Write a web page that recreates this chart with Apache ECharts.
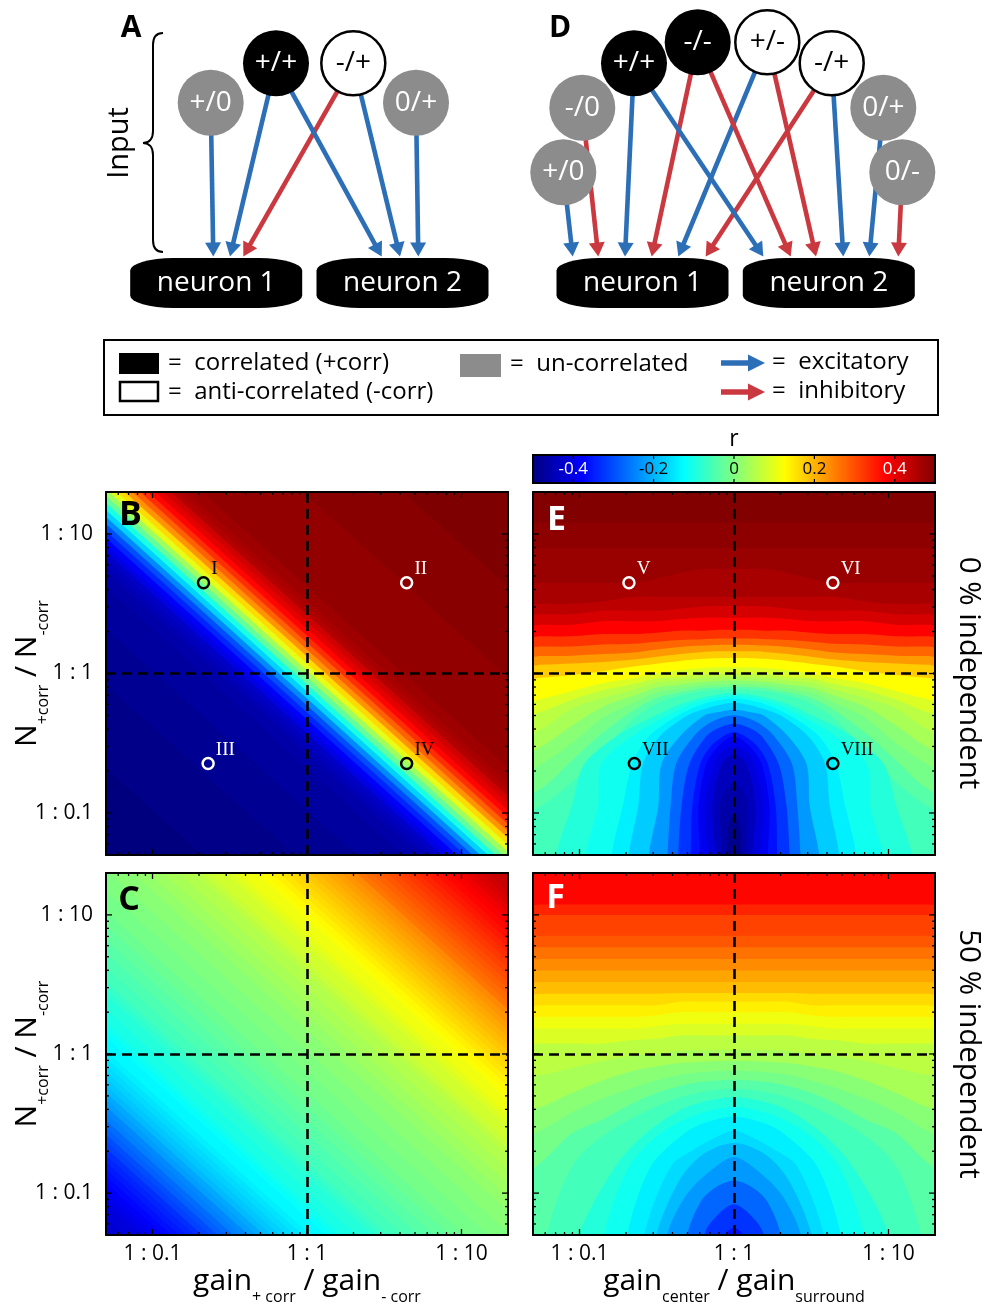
<!DOCTYPE html>
<html><head><meta charset="utf-8">
<script src="https://cdn.jsdelivr.net/npm/echarts@6/dist/echarts.min.js"></script>
<style>html,body{margin:0;padding:0;background:#fff}#c{width:996px;height:1304px}</style>
</head><body><div id="c"></div>
<script>
// ================= DATA =================
// log-ratio axes (ratio shown as "1 : x")
const ratioRange = [0.05, 20];
const ratioTicksMajor = [0.1, 1, 10];
const ratioTickLabels = ['1 : 0.1', '1 : 1', '1 : 10'];
const ratioTicksMinor = [0.06,0.07,0.08,0.09,0.2,0.3,0.4,0.5,0.6,0.7,0.8,0.9,2,3,4,5,6,7,8,9];

// Panels B and C: r is constant along the anti-diagonals; profile read against
// s = log10(x ratio) + log10(y ratio) (centres of the contour bands)
const diagSumLog10 = [-2.6,-2.55,-2.5,-2.45,-2.4,-2.35,-2.3,-2.25,-2.2,-2.15,-2.1,-2.05,-2,-1.95,-1.9,-1.85,-1.8,-1.75,-1.7,-1.65,-1.6,-1.55,-1.5,-1.45,-1.4,-1.35,-1.3,-1.25,-1.2,-1.15,-1.1,-1.05,-1,-0.95,-0.9,-0.85,-0.8,-0.75,-0.7,-0.65,-0.6,-0.55,-0.5,-0.45,-0.4,-0.35,-0.3,-0.25,-0.2,-0.15,-0.1,-0.05,0,0.05,0.1,0.15,0.2,0.25,0.3,0.35,0.4,0.45,0.5,0.55,0.6,0.65,0.7,0.75,0.8,0.85,0.9,0.95,1,1.05,1.1,1.15,1.2,1.25,1.3,1.35,1.4,1.45,1.5,1.55,1.6,1.65,1.7,1.75,1.8,1.85,1.9,1.95,2,2.05,2.1,2.15,2.2,2.25,2.3,2.35,2.4,2.45,2.5,2.55,2.6];
// correlation r (x100)
const rB_diag = [
-50,-50,-50,-50,-50,-50,-50,-50,-50,-50,-50,-50,-50,
-49,-49,-49,-49,-49,-49,-49,-49,-49,-49,-49,-49,
-48,-48,-48,-48,-48,-48,-48,-48,
-47,-47,-47,-47,-47,-47,
-46,-46,-45,-44,-43,-40,-38,-34,-30,-24,-17,-10,-3,
3,10,16,23,28,33,37,40,42,45,46,47,47,48,48,
48,48,48,48,48,48,48,48,48,48,48,
49,49,49,49,49,49,49,49,49,49,49,49,49,
50,50,50,50,50,50,50,50,50,50,50,50,50,50];
const rC_diag = [
-43,-42,-42,-41,-41,-40,-39,-38,-37,-36,-35,-34,-33,
-31,-30,-28,-27,-25,-24,-22,-21,-19,-18,-17,-16,
-15,-14,-13,-13,-12,-11,-10,-10,
-9,-9,-8,-7,-6,-6,
-5,-5,-4,-4,-3,-3,-2,-2,-1,-1,-1,0,0,
0,1,1,1,2,2,3,3,4,4,5,5,6,7,8,
8,9,10,11,11,12,13,14,15,16,17,
18,19,20,21,22,23,24,26,27,28,29,30,31,
32,33,34,35,36,37,38,39,40,41,42,43,43,44];

// Panels E and F: filled contours.
// (a) contours crossing the whole panel: log10(y ratio) at the x positions contourU,
//     band r = value of the band lying above the line;
// (b) closed dome contours (u, v) at the bottom, band r = value inside the dome.
const contourU = [-1.45,-1.25,-1.05,-0.85,-0.65,-0.5,-0.35,-0.2,-0.1,0,0.1,0.2,0.35,0.5,0.65,0.85,1.05,1.25,1.45];
const bandE_r = [-0.06,-0.04,-0.01,0.01,0.04,0.06,0.09,0.125,0.175,0.225,0.275,0.325,0.375,0.415,0.44,0.46,0.475,0.485,0.497];
const contourE_v = [
[-1.6,-1.6,-1.6,-1.6,-1.6,-1.6,-1.6,-1.6,-1.6,-1.6,-1.6,-1.6,-1.6,-1.6,-1.6,-1.6,-1.6,-1.6,-1.6],
[-1.05,-0.95,-0.78,-0.55,-0.325,-0.217,-0.16,-0.127,-0.118,-0.115,-0.118,-0.127,-0.16,-0.217,-0.325,-0.55,-0.78,-0.95,-1.05],
[-0.9,-0.825,-0.625,-0.425,-0.263,-0.175,-0.135,-0.105,-0.098,-0.095,-0.098,-0.105,-0.135,-0.175,-0.263,-0.425,-0.625,-0.825,-0.9],
[-0.75,-0.65,-0.5,-0.317,-0.21,-0.136,-0.11,-0.085,-0.078,-0.075,-0.078,-0.085,-0.11,-0.136,-0.21,-0.317,-0.5,-0.65,-0.75],
[-0.6,-0.525,-0.375,-0.238,-0.16,-0.1,-0.08,-0.06,-0.052,-0.05,-0.052,-0.06,-0.08,-0.1,-0.16,-0.238,-0.375,-0.525,-0.6],
[-0.48,-0.4,-0.25,-0.175,-0.117,-0.064,-0.05,-0.033,-0.027,-0.025,-0.027,-0.033,-0.05,-0.064,-0.117,-0.175,-0.25,-0.4,-0.48],
[-0.33,-0.275,-0.188,-0.12,-0.075,-0.035,-0.025,-0.006,-0.001,0,-0.001,-0.006,-0.025,-0.035,-0.075,-0.12,-0.188,-0.275,-0.33],
[-0.22,-0.183,-0.125,-0.07,-0.033,0,0.025,0.04,0.045,0.045,0.045,0.04,0.025,0,-0.033,-0.07,-0.125,-0.183,-0.22],
[-0.04,-0.03,-0.01,0.017,0.05,0.07,0.09,0.105,0.11,0.11,0.11,0.105,0.09,0.07,0.05,0.017,-0.01,-0.03,-0.04],
[0.06,0.063,0.072,0.083,0.1,0.12,0.14,0.155,0.159,0.159,0.159,0.155,0.14,0.12,0.1,0.083,0.072,0.063,0.06],
[0.125,0.125,0.128,0.139,0.15,0.172,0.19,0.2,0.205,0.205,0.205,0.2,0.19,0.172,0.15,0.139,0.128,0.125,0.125],
[0.193,0.193,0.193,0.207,0.213,0.228,0.24,0.245,0.25,0.25,0.25,0.245,0.24,0.228,0.213,0.207,0.193,0.193,0.193],
[0.267,0.267,0.267,0.283,0.283,0.293,0.307,0.306,0.313,0.313,0.313,0.306,0.307,0.293,0.283,0.283,0.267,0.267,0.267],
[0.35,0.35,0.35,0.375,0.375,0.375,0.39,0.4,0.4,0.4,0.4,0.4,0.39,0.375,0.375,0.375,0.35,0.35,0.35],
[0.425,0.425,0.425,0.45,0.45,0.45,0.465,0.48,0.483,0.483,0.483,0.48,0.465,0.45,0.45,0.45,0.425,0.425,0.425],
[0.5,0.5,0.5,0.517,0.55,0.55,0.55,0.55,0.55,0.55,0.55,0.55,0.55,0.55,0.55,0.517,0.5,0.5,0.5],
[0.65,0.65,0.65,0.65,0.65,0.68,0.72,0.75,0.75,0.75,0.75,0.75,0.72,0.68,0.65,0.65,0.65,0.65,0.65],
[0.9,0.9,0.9,0.9,0.9,0.9,0.9,0.9,0.9,0.9,0.9,0.9,0.9,0.9,0.9,0.9,0.9,0.9,0.9],
[1.08,1.08,1.08,1.08,1.08,1.08,1.08,1.08,1.08,1.08,1.08,1.08,1.08,1.08,1.08,1.08,1.08,1.08,1.08]
];
const domeE_r = [-0.09,-0.11,-0.14,-0.175,-0.225,-0.275,-0.325,-0.36,-0.39,-0.41,-0.44,-0.46,-0.485];
const domeE_pts = [
[[-1.17,-1.6],[-1.15,-1.29],[-1.05,-0.95],[-0.97,-0.65],[-0.76,-0.45],[-0.505,-0.3],[-0.3,-0.2],[0,-0.14],[0.3,-0.2],[0.505,-0.3],[0.76,-0.45],[0.97,-0.65],[1.05,-0.95],[1.15,-1.29],[1.17,-1.6]],
[[-0.98,-1.6],[-0.96,-1.29],[-0.88,-0.95],[-0.86,-0.65],[-0.66,-0.45],[-0.43,-0.3],[-0.25,-0.21],[0,-0.16],[0.25,-0.21],[0.43,-0.3],[0.66,-0.45],[0.86,-0.65],[0.88,-0.95],[0.96,-1.29],[0.98,-1.6]],
[[-0.8,-1.6],[-0.79,-1.29],[-0.72,-0.95],[-0.66,-0.65],[-0.55,-0.45],[-0.36,-0.3],[-0.2,-0.22],[0,-0.18],[0.2,-0.22],[0.36,-0.3],[0.55,-0.45],[0.66,-0.65],[0.72,-0.95],[0.79,-1.29],[0.8,-1.6]],
[[-0.69,-1.6],[-0.68,-1.29],[-0.62,-0.95],[-0.59,-0.65],[-0.48,-0.45],[-0.3,-0.3],[-0.18,-0.25],[0,-0.21],[0.18,-0.25],[0.3,-0.3],[0.48,-0.45],[0.59,-0.65],[0.62,-0.95],[0.68,-1.29],[0.69,-1.6]],
[[-0.56,-1.6],[-0.55,-1.29],[-0.49,-0.95],[-0.47,-0.65],[-0.35,-0.45],[-0.19,-0.3],[-0.12,-0.28],[0,-0.26],[0.12,-0.28],[0.19,-0.3],[0.35,-0.45],[0.47,-0.65],[0.49,-0.95],[0.55,-1.29],[0.56,-1.6]],
[[-0.44,-1.6],[-0.43,-1.29],[-0.41,-0.95],[-0.376,-0.65],[-0.26,-0.45],[-0.15,-0.35],[0,-0.3],[0.15,-0.35],[0.26,-0.45],[0.376,-0.65],[0.41,-0.95],[0.43,-1.29],[0.44,-1.6]],
[[-0.37,-1.6],[-0.36,-1.29],[-0.34,-0.95],[-0.29,-0.65],[-0.18,-0.45],[-0.1,-0.39],[0,-0.36],[0.1,-0.39],[0.18,-0.45],[0.29,-0.65],[0.34,-0.95],[0.36,-1.29],[0.37,-1.6]],
[[-0.29,-1.6],[-0.28,-1.29],[-0.27,-0.95],[-0.22,-0.65],[-0.15,-0.52],[-0.07,-0.45],[0,-0.42],[0.07,-0.45],[0.15,-0.52],[0.22,-0.65],[0.27,-0.95],[0.28,-1.29],[0.29,-1.6]],
[[-0.22,-1.6],[-0.22,-1.29],[-0.23,-0.95],[-0.18,-0.65],[-0.1,-0.52],[0,-0.45],[0.1,-0.52],[0.18,-0.65],[0.23,-0.95],[0.22,-1.29],[0.22,-1.6]],
[[-0.17,-1.6],[-0.17,-1.29],[-0.19,-0.95],[-0.13,-0.65],[-0.08,-0.56],[0,-0.52],[0.08,-0.56],[0.13,-0.65],[0.19,-0.95],[0.17,-1.29],[0.17,-1.6]],
[[-0.12,-1.6],[-0.12,-1.29],[-0.14,-0.95],[-0.08,-0.65],[0,-0.58],[0.08,-0.65],[0.14,-0.95],[0.12,-1.29],[0.12,-1.6]],
[[-0.08,-1.6],[-0.08,-1.29],[-0.09,-0.95],[-0.06,-0.85],[0,-0.78],[0.06,-0.85],[0.09,-0.95],[0.08,-1.29],[0.08,-1.6]],
[[-0.045,-1.6],[-0.045,-1.29],[-0.04,-1.1],[0,-1],[0.04,-1.1],[0.045,-1.29],[0.045,-1.6]]
];
const bandF_r = [-0.04,-0.01,0.01,0.04,0.06,0.09,0.11,0.14,0.16,0.19,0.2125,0.2375,0.2625,0.29,0.31,0.34,0.37];
const contourF_v = [
[-1.6,-1.6,-1.6,-1.6,-1.6,-1.6,-1.6,-1.6,-1.6,-1.6,-1.6,-1.6,-1.6,-1.6,-1.6,-1.6,-1.6,-1.6,-1.6],
[-0.9,-0.78,-0.57,-0.47,-0.35,-0.28,-0.23,-0.2,-0.19,-0.185,-0.19,-0.2,-0.23,-0.28,-0.35,-0.47,-0.57,-0.78,-0.9],
[-0.62,-0.55,-0.42,-0.32,-0.24,-0.19,-0.15,-0.13,-0.122,-0.12,-0.122,-0.13,-0.15,-0.19,-0.24,-0.32,-0.42,-0.55,-0.62],
[-0.43,-0.38,-0.28,-0.19,-0.12,-0.09,-0.065,-0.055,-0.05,-0.05,-0.05,-0.055,-0.065,-0.09,-0.12,-0.19,-0.28,-0.38,-0.43],
[-0.17,-0.15,-0.1,-0.05,-0.01,0,0.025,0.03,0.03,0.03,0.03,0.03,0.025,0,-0.01,-0.05,-0.1,-0.15,-0.17],
[0.075,0.075,0.075,0.075,0.1,0.11,0.133,0.133,0.133,0.133,0.133,0.133,0.133,0.11,0.1,0.075,0.075,0.075,0.075],
[0.183,0.183,0.183,0.183,0.183,0.2,0.217,0.217,0.217,0.217,0.217,0.217,0.217,0.2,0.183,0.183,0.183,0.183,0.183],
[0.267,0.267,0.267,0.267,0.267,0.279,0.3,0.3,0.3,0.3,0.3,0.3,0.3,0.279,0.267,0.267,0.267,0.267,0.267],
[0.35,0.35,0.35,0.35,0.35,0.35,0.375,0.375,0.375,0.375,0.375,0.375,0.375,0.35,0.35,0.35,0.35,0.35,0.35],
[0.433,0.433,0.433,0.433,0.433,0.433,0.438,0.438,0.438,0.438,0.438,0.438,0.438,0.433,0.433,0.433,0.433,0.433,0.433],
[0.517,0.517,0.517,0.517,0.517,0.517,0.517,0.517,0.517,0.517,0.517,0.517,0.517,0.517,0.517,0.517,0.517,0.517,0.517],
[0.6,0.6,0.6,0.6,0.6,0.6,0.6,0.6,0.6,0.6,0.6,0.6,0.6,0.6,0.6,0.6,0.6,0.6,0.6],
[0.683,0.683,0.683,0.683,0.683,0.683,0.683,0.683,0.683,0.683,0.683,0.683,0.683,0.683,0.683,0.683,0.683,0.683,0.683],
[0.767,0.767,0.767,0.767,0.767,0.767,0.767,0.767,0.767,0.767,0.767,0.767,0.767,0.767,0.767,0.767,0.767,0.767,0.767],
[0.85,0.85,0.85,0.85,0.85,0.85,0.85,0.85,0.85,0.85,0.85,0.85,0.85,0.85,0.85,0.85,0.85,0.85,0.85],
[1,1,1,1,1,1,1,1,1,1,1,1,1,1,1,1,1,1,1],
[1.075,1.075,1.075,1.075,1.075,1.075,1.075,1.075,1.075,1.075,1.075,1.075,1.075,1.075,1.075,1.075,1.075,1.075,1.075]
];
const domeF_r = [-0.06,-0.09,-0.11,-0.14,-0.16,-0.19,-0.225,-0.275,-0.325,-0.36];
const domeF_pts = [
[[-1.23,-1.6],[-1.21,-1.29],[-1.05,-0.81],[-0.825,-0.57],[-0.4,-0.33],[0,-0.25],[0.4,-0.33],[0.825,-0.57],[1.05,-0.81],[1.21,-1.29],[1.23,-1.6]],
[[-1.02,-1.6],[-1,-1.29],[-0.77,-0.81],[-0.57,-0.57],[-0.3,-0.38],[0,-0.31],[0.3,-0.38],[0.57,-0.57],[0.77,-0.81],[1,-1.29],[1.02,-1.6]],
[[-0.86,-1.6],[-0.84,-1.29],[-0.68,-0.81],[-0.475,-0.57],[-0.25,-0.44],[0,-0.38],[0.25,-0.44],[0.475,-0.57],[0.68,-0.81],[0.84,-1.29],[0.86,-1.6]],
[[-0.7,-1.6],[-0.69,-1.29],[-0.54,-0.81],[-0.32,-0.57],[-0.2,-0.5],[0,-0.45],[0.2,-0.5],[0.32,-0.57],[0.54,-0.81],[0.69,-1.29],[0.7,-1.6]],
[[-0.59,-1.6],[-0.58,-1.29],[-0.41,-0.81],[-0.25,-0.68],[-0.12,-0.6],[0,-0.55],[0.12,-0.6],[0.25,-0.68],[0.41,-0.81],[0.58,-1.29],[0.59,-1.6]],
[[-0.51,-1.6],[-0.5,-1.29],[-0.35,-0.9],[-0.2,-0.72],[0,-0.64],[0.2,-0.72],[0.35,-0.9],[0.5,-1.29],[0.51,-1.6]],
[[-0.44,-1.6],[-0.43,-1.29],[-0.3,-1],[-0.12,-0.81],[0,-0.74],[0.12,-0.81],[0.3,-1],[0.43,-1.29],[0.44,-1.6]],
[[-0.31,-1.6],[-0.3,-1.29],[-0.215,-1.06],[-0.12,-0.96],[0,-0.91],[0.12,-0.96],[0.215,-1.06],[0.3,-1.29],[0.31,-1.6]],
[[-0.2,-1.6],[-0.19,-1.29],[-0.1,-1.15],[0,-1.08],[0.1,-1.15],[0.19,-1.29],[0.2,-1.6]],
[[-0.06,-1.6],[-0.05,-1.29],[0,-1.25],[0.05,-1.29],[0.06,-1.6]]
];
// colour bar
const rLimits = [-0.5, 0.5];
const rTicks = [-0.4, -0.2, 0, 0.2, 0.4];
const rTickLabels = ['-0.4', '-0.2', '0', '0.2', '0.4'];
// example points (label, log10 x-ratio, log10 y-ratio)
const markersB = [['I', -0.67, 0.65], ['II', 0.645, 0.65], ['III', -0.64, -0.645], ['IV', 0.645, -0.645]];
const markersE = [['V', -0.68, 0.65], ['VI', 0.64, 0.65], ['VII', -0.645, -0.645], ['VIII', 0.64, -0.645]];

// schematic network (diagram coordinates)
const diagramNodes = [
  {id:'A+/0', label:'+/0', kind:'uncorrelated', x:210.7, y:102.7},
  {id:'A+/+', label:'+/+', kind:'correlated',   x:276,   y:63.3},
  {id:'A-/+', label:'-/+', kind:'anti',         x:353.3, y:63.3},
  {id:'A0/+', label:'0/+', kind:'uncorrelated', x:416,   y:102.7},
  {id:'D-/0', label:'-/0', kind:'uncorrelated', x:582.3, y:107.7},
  {id:'D+/0', label:'+/0', kind:'uncorrelated', x:563.3, y:172.3},
  {id:'D+/+', label:'+/+', kind:'correlated',   x:634,   y:63.3},
  {id:'D-/-', label:'-/-', kind:'correlated',   x:697.7, y:42.3},
  {id:'D+/-', label:'+/-', kind:'anti',         x:767.3, y:42.3},
  {id:'D-/+', label:'-/+', kind:'anti',         x:831.7, y:63.3},
  {id:'D0/+', label:'0/+', kind:'uncorrelated', x:883.3, y:107.7},
  {id:'D0/-', label:'0/-', kind:'uncorrelated', x:902.3, y:172.3}
];
const diagramNeurons = [
  {label:'neuron 1', x:216.2, y:283}, {label:'neuron 2', x:402.5, y:283},
  {label:'neuron 1', x:642.5, y:283}, {label:'neuron 2', x:828.8, y:283}
];
const synapseTipY = 256.5;
const diagramSynapses = [
  ['A+/0',213.3,'exc'],['A+/+',230,'exc'],['A-/+',243.3,'inh'],['A+/+',381.7,'exc'],['A-/+',400,'exc'],['A0/+',418.3,'exc'],
  ['D+/0',572.7,'exc'],['D-/0',598.3,'inh'],['D+/+',625,'exc'],['D-/-',651.7,'inh'],['D+/-',678.3,'exc'],['D-/+',705.7,'inh'],
  ['D+/+',763.3,'exc'],['D-/-',790.7,'inh'],['D+/-',816,'inh'],['D-/+',843.3,'exc'],['D0/+',869.3,'exc'],['D0/-',898.3,'inh']
];

// ================= STYLE =================
const FONT = "'Open Sans','Noto Sans',sans-serif";
const SERIF = "'Liberation Serif','DejaVu Serif',serif";
const BLUE = '#2c6fb6', RED = '#c9393f', GRAY = '#8c8c8c';
const JET = ['#00007f','#0000ff','#007fff','#00ffff','#7fff7f','#ffff00','#ff7f00','#ff0000','#7f0000'];
const markerStrokeB = ['#000', '#fff', '#fff', '#000'];
const markerStrokeE = ['#fff', '#fff', '#000', '#000'];
const nodeStyle = {
  uncorrelated: {fill: GRAY, stroke: 'rgba(0,0,0,0)', bw: 0, text: '#fff', size: 66},
  correlated:   {fill: '#000', stroke: 'rgba(0,0,0,0)', bw: 0, text: '#fff', size: 66},
  anti:         {fill: '#fff', stroke: '#000', bw: 2.5, text: '#000', size: 64}
};
const STRIP_HALF = 0.025, CONTOUR_SMOOTH = 0.3;

// ================= BUILD =================
const L10 = Math.log10;
const lo = L10(ratioRange[0]), hi = L10(ratioRange[1]);
const TOP_OUT = hi + 0.6;
const majLog = ratioTicksMajor.map(L10), minLog = ratioTicksMinor.map(L10);
function ratioLabel(v) {
  const i = majLog.findIndex(m => Math.abs(m - v) < 1e-6);
  return i < 0 ? '' : ratioTickLabels[i];
}
const rich = {
  m: {fontSize: 30, fontFamily: FONT, color: '#000', lineHeight: 38, verticalAlign: 'top'},
  s: {fontSize: 16, fontFamily: FONT, color: '#000', lineHeight: 16, padding: [23, 0, 0, 0], verticalAlign: 'top'}
};
const nameY = '{m|N}{s|+corr}{m| / N}{s|-corr}';
const nameXC = '{m|gain}{s|+ corr}{m| / gain}{s|- corr}';
const nameXF = '{m|gain}{s|center}{m| / gain}{s|surround}';

const grids = [], xAxes = [], yAxes = [], series = [], colourIdx = [];
const G = o => Object.assign({outerBoundsMode: 'none', containLabel: false}, o);

// --- diagram grid (0)
grids.push(G({left: 0, top: 0, width: 996, height: 320, show: false}));
xAxes.push({gridIndex: 0, type: 'value', min: 0, max: 996, show: false});
yAxes.push({gridIndex: 0, type: 'value', min: 0, max: 320, inverse: true, show: false});

function renderArrow(params, api) {
  const p1 = api.coord([api.value(0), api.value(1)]);
  const p2 = api.coord([api.value(2), api.value(3)]);
  const color = api.value(4) === 0 ? BLUE : RED;
  const dx = p2[0] - p1[0], dy = p2[1] - p1[1], L = Math.hypot(dx, dy);
  const ux = dx / L, uy = dy / L, H = 14, W = 8;
  const bx = p2[0] - ux * H, by = p2[1] - uy * H;
  return {type: 'group', children: [
    {type: 'line', shape: {x1: p1[0], y1: p1[1], x2: bx + ux, y2: by + uy}, style: {stroke: color, lineWidth: 4.6}},
    {type: 'polygon', shape: {points: [[p2[0], p2[1]], [bx - uy * W, by + ux * W], [bx + uy * W, by - ux * W]]}, style: {fill: color}}
  ]};
}
const nodeById = {};
diagramNodes.forEach(n => { nodeById[n.id] = n; });
series.push({
  type: 'custom', xAxisIndex: 0, yAxisIndex: 0, z: 2, silent: true, renderItem: renderArrow,
  data: diagramSynapses.map(s => [nodeById[s[0]].x, nodeById[s[0]].y, s[1], synapseTipY, s[2] === 'exc' ? 0 : 1])
});
series.push({
  type: 'scatter', xAxisIndex: 0, yAxisIndex: 0, z: 3, silent: true, symbol: 'circle',
  data: diagramNodes.map(n => {
    const st = nodeStyle[n.kind];
    return {name: n.label, value: [n.x, n.y], symbolSize: st.size,
      itemStyle: {color: st.fill, borderColor: st.stroke, borderWidth: st.bw, opacity: 1},
      label: {color: st.text}};
  }),
  label: {show: true, position: 'inside', formatter: '{b}', fontSize: 28, fontFamily: FONT}
});
series.push({
  type: 'scatter', xAxisIndex: 0, yAxisIndex: 0, z: 3, silent: true, symbol: 'roundRect', symbolSize: [172, 50],
  itemStyle: {color: '#000', opacity: 1},
  data: diagramNeurons.map(n => ({name: n.label, value: [n.x, n.y]})),
  label: {show: true, position: 'inside', formatter: '{b}', color: '#fff', fontSize: 28, fontFamily: FONT}
});

// --- colour bar grid (1)
grids.push(G({left: 533, top: 455, width: 402, height: 28, show: true, borderColor: '#000', borderWidth: 2,
  backgroundColor: new echarts.graphic.LinearGradient(0, 0, 1, 0, JET.map((c, i) => ({offset: i / (JET.length - 1), color: c})))}));
const rLabel = v => { const i = rTicks.findIndex(t => Math.abs(t - v) < 1e-9); return i < 0 ? '' : rTickLabels[i]; };
xAxes.push({gridIndex: 1, type: 'value', min: rLimits[0], max: rLimits[1], position: 'bottom', z: 3,
  axisLine: {show: false, onZero: false}, splitLine: {show: false}, axisTick: {show: false},
  axisLabel: {show: true, inside: true, customValues: rTicks, formatter: rLabel, margin: 14, verticalAlign: 'middle',
    color: v => (Math.abs(parseFloat(v)) > 0.3 ? '#fff' : '#000'), fontSize: 17, fontFamily: FONT}});
xAxes.push({gridIndex: 1, type: 'value', min: rLimits[0], max: rLimits[1], position: 'top', z: 3,
  axisLine: {show: false, onZero: false}, splitLine: {show: false}, axisLabel: {show: false}, axisTick: {show: false},
  name: 'r', nameLocation: 'middle', nameGap: 4, nameMoveOverlap: false, nameTextStyle: {fontSize: 23, fontFamily: FONT, color: '#000'}});
yAxes.push({gridIndex: 1, type: 'value', min: 0, max: 1, show: false});
series.push({type: 'custom', xAxisIndex: 2, yAxisIndex: 1, z: 5, silent: true, data: rTicks.map(t => [t, 0.5]),
  renderItem: (params, api) => {
    const cs = params.coordSys, px = api.coord([api.value(0), 0.5])[0], st = {stroke: '#000', lineWidth: 1.2};
    return {type: 'group', children: [
      {type: 'line', shape: {x1: px, y1: cs.y, x2: px, y2: cs.y + 4}, style: st},
      {type: 'line', shape: {x1: px, y1: cs.y + cs.height, x2: px, y2: cs.y + cs.height - 4}, style: st}]};
  }});

// --- heat-map panels
function renderStrip(params, api) {
  const s = api.value(0);
  const c1 = s - STRIP_HALF - 0.004, c2 = s + STRIP_HALF + 0.004;
  const uA = lo - 0.3, uB = hi + 0.3;
  const pts = [[uA, c1 - uA], [uB, c1 - uB], [uB, c2 - uB], [uA, c2 - uA]].map(p => api.coord(p));
  return {type: 'polygon', shape: {points: pts}, style: {fill: api.visual('color')}};
}
function contourPolygons(vRows, domes) {
  const polys = vRows.map(vs => {
    const pts = contourU.map((u, j) => [u, vs[j]]);
    pts.push([contourU[contourU.length - 1], TOP_OUT], [contourU[0], TOP_OUT]);
    return pts;
  });
  return polys.concat(domes);
}
function polygonRenderer(polys) {
  return function (params, api) {
    const pts = polys[params.dataIndex].map(p => api.coord(p));
    return {type: 'polygon', shape: {points: pts, smooth: CONTOUR_SMOOTH}, style: {fill: api.visual('color')}};
  };
}
function renderTicks(params, api) {
  const v = api.value(0), len = api.value(1) === 1 ? 6 : 3;
  const cs = params.coordSys;
  const px = api.coord([v, 0])[0], py = api.coord([0, v])[1];
  const st = {stroke: '#000', lineWidth: 1.3};
  return {type: 'group', children: [
    {type: 'line', shape: {x1: px, y1: cs.y + cs.height, x2: px, y2: cs.y + cs.height - len}, style: st},
    {type: 'line', shape: {x1: px, y1: cs.y, x2: px, y2: cs.y + len}, style: st},
    {type: 'line', shape: {x1: cs.x, y1: py, x2: cs.x + len, y2: py}, style: st},
    {type: 'line', shape: {x1: cs.x + cs.width, y1: py, x2: cs.x + cs.width - len, y2: py}, style: st}]};
}
const tickData = majLog.map(v => [v, 1]).concat(minLog.map(v => [v, 0]));

function addPanel(o) {
  const gi = grids.length;
  grids.push(G({left: o.left, top: o.top, width: 402, height: o.height, show: false}));
  const xi = xAxes.length, yi = yAxes.length;
  const mk = (pos, extra) => Object.assign({
    gridIndex: gi, type: 'value', min: lo, max: hi, z: 4, position: pos, splitLine: {show: false},
    axisLine: {show: true, onZero: false, lineStyle: {color: '#000', width: 2}},
    axisTick: {show: false}, axisLabel: {show: false}
  }, extra || {});
  const lbl = (margin) => ({show: true, customValues: majLog, formatter: ratioLabel, margin: margin, color: '#000', fontSize: 21, fontFamily: FONT});
  xAxes.push(mk('bottom', o.xName ? {axisLabel: lbl(9), name: o.xName, nameLocation: 'middle', nameGap: 31, nameMoveOverlap: false, nameTextStyle: {rich: rich}} : {}));
  xAxes.push(mk('top'));
  yAxes.push(mk('left', o.yName ? {axisLabel: lbl(13), name: o.yName, nameLocation: 'middle', nameRotate: 90, nameGap: 56, nameMoveOverlap: false, nameTextStyle: {rich: rich}} : {}));
  yAxes.push(mk('right'));
  const markLine = {silent: true, symbol: ['none', 'none'], label: {show: false}, animation: false,
    lineStyle: {color: '#000', width: 2.6, type: [10, 6]}, data: [{xAxis: L10(1)}, {yAxis: L10(1)}]};
  colourIdx.push(series.length);
  if (o.profile) {
    series.push({type: 'custom', xAxisIndex: xi, yAxisIndex: yi, z: 1, clip: true, silent: true,
      data: diagSumLog10.map((s, i) => [s, o.profile[i] / 100]), renderItem: renderStrip, markLine: markLine});
  } else {
    const polys = contourPolygons(o.contours, o.domes);
    const vals = o.bands.concat(o.domeBands);
    series.push({type: 'custom', xAxisIndex: xi, yAxisIndex: yi, z: 1, clip: true, silent: true,
      data: vals.map((r, i) => [i, r]), renderItem: polygonRenderer(polys), markLine: markLine});
  }
  series.push({type: 'custom', xAxisIndex: xi, yAxisIndex: yi, z: 5, silent: true, data: tickData, renderItem: renderTicks});
  if (o.markers) {
    series.push({type: 'scatter', xAxisIndex: xi, yAxisIndex: yi, z: 6, silent: true, symbol: 'circle', symbolSize: 11,
      data: o.markers.map((m, i) => ({name: m[0], value: [m[1], m[2]],
        itemStyle: {color: 'rgba(0,0,0,0)', borderColor: o.stroke[i], borderWidth: 2.5, opacity: 1},
        label: {color: o.stroke[i]}})),
      label: {show: true, formatter: '{b}', position: [14.5, -7], align: 'left', verticalAlign: 'middle', fontFamily: SERIF, fontSize: 19}});
  }
}
addPanel({left: 106, top: 492, height: 363, profile: rB_diag, yName: nameY, markers: markersB, stroke: markerStrokeB});
addPanel({left: 533, top: 492, height: 363, bands: bandE_r, contours: contourE_v, domeBands: domeE_r, domes: domeE_pts, markers: markersE, stroke: markerStrokeE});
addPanel({left: 106, top: 873, height: 362, profile: rC_diag, yName: nameY, xName: nameXC});
addPanel({left: 533, top: 873, height: 362, bands: bandF_r, contours: contourF_v, domeBands: domeF_r, domes: domeF_pts, xName: nameXF});

// --- decorative graphics (letters, legend, brace)
const txt = (text, x, y, size, opts) => Object.assign({type: 'text', x: x, y: y, z: 100,
  style: Object.assign({text: text, fill: '#000', fontSize: size, fontFamily: FONT, align: 'center', verticalAlign: 'middle'}, (opts && opts.style) || {})},
  (opts && opts.el) || {});
const legendArrow = (y, color) => ({type: 'group', children: [
  {type: 'line', shape: {x1: 721, y1: y, x2: 751, y2: y}, style: {stroke: color, lineWidth: 5.5}},
  {type: 'polygon', shape: {points: [[765, y], [748, y - 8.5], [748, y + 8.5]]}, style: {fill: color}}
]});
const braceStyle = {stroke: '#000', lineWidth: 2, fill: null};
const graphics = [
  txt('A', 131, 28, 30, {style: {fontWeight: 'bold'}}),
  txt('D', 560, 28, 30, {style: {fontWeight: 'bold'}}),
  txt('B', 130.5, 515, 34, {style: {fontWeight: 'bold'}}),
  txt('E', 556.5, 520, 34, {style: {fontWeight: 'bold', fill: '#fff'}}),
  txt('C', 129, 900, 34, {style: {fontWeight: 'bold'}}),
  txt('F', 555.5, 898, 34, {style: {fontWeight: 'bold', fill: '#fff'}}),
  txt('Input', 120, 143, 29, {el: {rotation: Math.PI / 2}}),
  txt('0 % independent', 968, 673, 29.5, {el: {rotation: -Math.PI / 2}}),
  txt('50 % independent', 968, 1054, 29.5, {el: {rotation: -Math.PI / 2}}),
  {type: 'group', children: [
    {type: 'bezierCurve', shape: {x1: 163, y1: 33, cpx1: 156, cpy1: 33, cpx2: 153, cpy2: 37, x2: 153, y2: 45}, style: braceStyle},
    {type: 'line', shape: {x1: 153, y1: 45, x2: 153, y2: 131}, style: braceStyle},
    {type: 'bezierCurve', shape: {x1: 153, y1: 131, cpx1: 153, cpy1: 139, cpx2: 149, cpy2: 143, x2: 143, y2: 143}, style: braceStyle},
    {type: 'bezierCurve', shape: {x1: 143, y1: 143, cpx1: 149, cpy1: 143, cpx2: 153, cpy2: 147, x2: 153, y2: 155}, style: braceStyle},
    {type: 'line', shape: {x1: 153, y1: 155, x2: 153, y2: 240}, style: braceStyle},
    {type: 'bezierCurve', shape: {x1: 153, y1: 240, cpx1: 153, cpy1: 248, cpx2: 156, cpy2: 252, x2: 163, y2: 252}, style: braceStyle}
  ]},
  {type: 'rect', shape: {x: 104, y: 340, width: 834, height: 75}, style: {fill: '#fff', stroke: '#000', lineWidth: 2}},
  {type: 'rect', shape: {x: 119, y: 353, width: 40, height: 21}, style: {fill: '#000'}},
  {type: 'rect', shape: {x: 120, y: 382, width: 38, height: 19}, style: {fill: '#fff', stroke: '#000', lineWidth: 2.5}},
  {type: 'rect', shape: {x: 460, y: 354, width: 41, height: 23}, style: {fill: GRAY}},
  txt('=  correlated (+corr)', 168, 363, 24, {style: {align: 'left'}}),
  txt('=  anti-correlated (-corr)', 168, 392, 24, {style: {align: 'left'}}),
  txt('=  un-correlated', 510, 364, 24, {style: {align: 'left'}}),
  txt('=  excitatory', 772, 362, 24, {style: {align: 'left'}}),
  txt('=  inhibitory', 772, 391, 24, {style: {align: 'left'}}),
  legendArrow(363, BLUE),
  legendArrow(392, RED)
];

const chart = echarts.init(document.getElementById('c'), null, {renderer: 'canvas'});
chart.setOption({
  animation: false,
  backgroundColor: '#fff',
  grid: grids, xAxis: xAxes, yAxis: yAxes,
  visualMap: {type: 'continuous', show: false, min: rLimits[0], max: rLimits[1], dimension: 1, seriesIndex: colourIdx, inRange: {color: JET}},
  series: series,
  graphic: {elements: graphics}
});
</script>
</body></html>
